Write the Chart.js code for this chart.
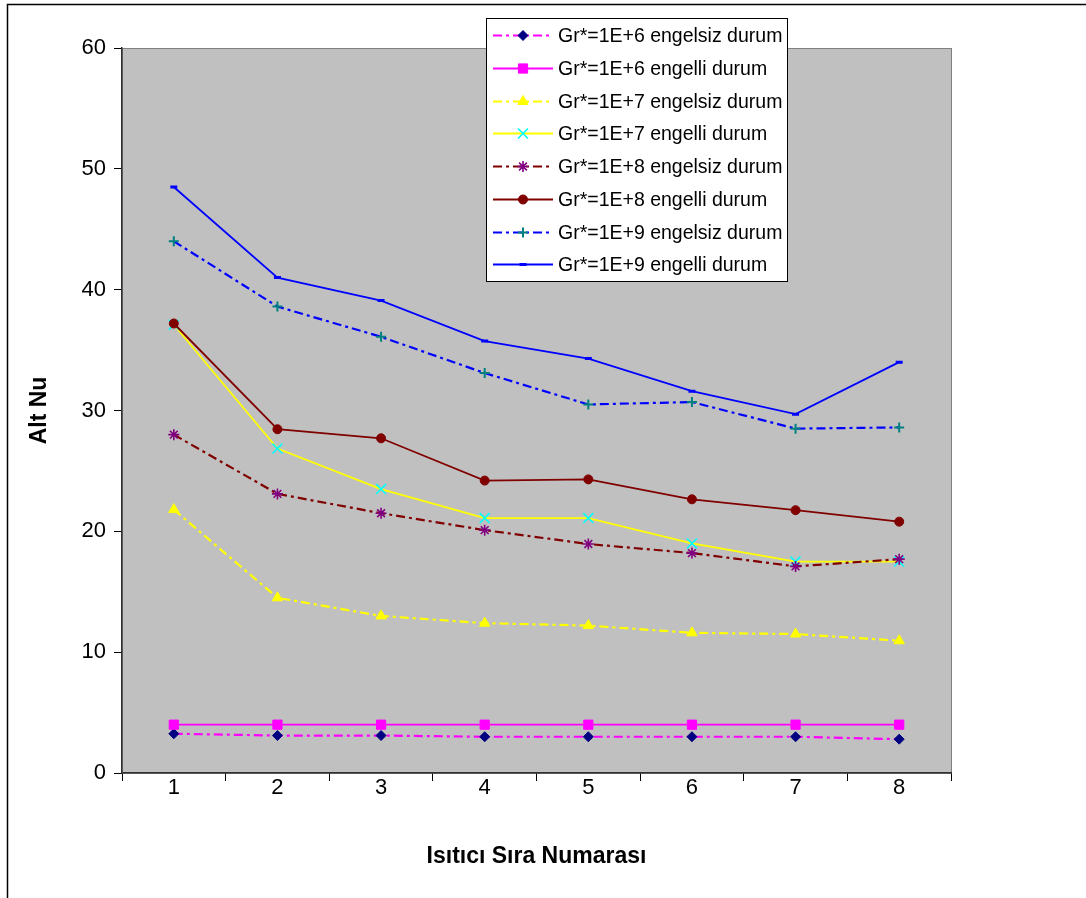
<!DOCTYPE html>
<html>
<head>
<meta charset="utf-8">
<title>Alt Nu</title>
<script src="https://cdn.jsdelivr.net/npm/chart.js@4.4.1/dist/chart.umd.min.js"></script>
<style>
  html, body { margin: 0; padding: 0; background: #fff; }
  canvas { display: block; }
</style>
</head>
<body>
<canvas id="chart" width="1086" height="898"></canvas>
<script>
// ---- data ----
const categories = ['1', '2', '3', '4', '5', '6', '7', '8'];
const yTicks = [0, 10, 20, 30, 40, 50, 60];

const gr6Engelsiz = [3.25, 3.1, 3.1, 3.0, 3.0, 3.0, 3.0, 2.8];
const gr6Engelli  = [4.0, 4.0, 4.0, 4.0, 4.0, 4.0, 4.0, 4.0];
const gr7Engelsiz = [21.8, 14.5, 13.0, 12.4, 12.2, 11.6, 11.5, 10.95];
const gr7Engelli  = [37.1, 26.85, 23.5, 21.1, 21.1, 19.0, 17.5, 17.5];
const gr8Engelsiz = [28.0, 23.1, 21.5, 20.1, 18.95, 18.2, 17.1, 17.7];
const gr8Engelli  = [37.2, 28.45, 27.7, 24.2, 24.3, 22.65, 21.75, 20.8];
const gr9Engelsiz = [44.0, 38.6, 36.1, 33.1, 30.5, 30.7, 28.5, 28.6];
const gr9Engelli  = [48.5, 41.0, 39.1, 35.75, 34.3, 31.6, 29.7, 34.0];

const FONT = '"Liberation Sans", Arial, sans-serif';
const DASH_DOT = [9, 4, 3, 4];

function series(label, data, color, dashed, style, markFill, markLine, radius, markWidth) {
    return {
        label: label,
        data: data,
        borderColor: color,
        borderWidth: dashed ? 2.2 : 1.8,
        borderDash: dashed ? DASH_DOT : [],
        tension: 0,
        fill: false,
        pointStyle: style,
        pointRadius: radius,
        pointHoverRadius: radius,
        pointBackgroundColor: markFill,
        pointBorderColor: markLine,
        pointBorderWidth: markWidth
    };
}

const datasets = [
    series('Gr*=1E+6 engelsiz durum', gr6Engelsiz, '#ff00ff', true,  'rectRot',  '#000080', '#000080', 5, 1),
    series('Gr*=1E+6 engelli durum',  gr6Engelli,  '#ff00ff', false, 'rect',     '#ff00ff', '#ff00ff', 6.5, 1),
    series('Gr*=1E+7 engelsiz durum', gr7Engelsiz, '#ffff00', true,  'triangle', '#ffff00', '#ffff00', 6, 1),
    series('Gr*=1E+7 engelli durum',  gr7Engelli,  '#ffff00', false, 'crossRot', '#00ffff', '#00ffff', 7, 1.6),
    series('Gr*=1E+8 engelsiz durum', gr8Engelsiz, '#800000', true,  'star',     '#800080', '#800080', 5.5, 1.6),
    series('Gr*=1E+8 engelli durum',  gr8Engelli,  '#800000', false, 'circle',   '#800000', '#800000', 4.5, 1),
    series('Gr*=1E+9 engelsiz durum', gr9Engelsiz, '#0000ff', true,  'cross',    '#008080', '#008080', 5, 2),
    series('Gr*=1E+9 engelli durum',  gr9Engelli,  '#0000ff', false, 'line',     '#0000ff', '#0000ff', 3.5, 3)
];
// later series drawn on top, like the original
datasets.forEach((ds, i) => { ds.order = datasets.length - i; });

// grey plot area, outer frame
const plotFrame = {
    id: 'plotFrame',
    beforeDraw(chart) {
        const { ctx, chartArea: a } = chart;
        ctx.save();
        ctx.fillStyle = '#fff';
        ctx.fillRect(0, 0, chart.width, chart.height);
        ctx.strokeStyle = '#000';
        ctx.lineWidth = 1.5;
        ctx.strokeRect(7.5, 4.5, chart.width + 20, chart.height + 20);
        ctx.fillStyle = '#c0c0c0';
        ctx.fillRect(a.left, a.top, a.right - a.left, a.bottom - a.top);
        ctx.strokeStyle = '#808080';
        ctx.lineWidth = 1;
        ctx.strokeRect(a.left + 0.5, a.top + 0.5, a.right - a.left, a.bottom - a.top);
        ctx.restore();
    }
};

// boxed legend sitting over the plot
const boxLegend = {
    id: 'boxLegend',
    afterDraw(chart) {
        const ctx = chart.ctx;
        const x0 = 486.5, y0 = 18.5, w = 301, h = 263;
        const firstY = 35, rowH = 32.75;
        ctx.save();
        ctx.fillStyle = '#fff';
        ctx.fillRect(x0, y0, w, h);
        ctx.strokeStyle = '#000';
        ctx.lineWidth = 1;
        ctx.strokeRect(x0, y0, w, h);

        chart.data.datasets.forEach((ds, i) => {
            const y = Math.round(firstY + i * rowH) + 0.5;

            ctx.save();
            ctx.strokeStyle = ds.borderColor;
            ctx.lineWidth = ds.borderWidth;
            ctx.setLineDash(ds.borderDash);
            ctx.beginPath();
            ctx.moveTo(493, y);
            ctx.lineTo(553, y);
            ctx.stroke();
            ctx.restore();

            ctx.save();
            ctx.fillStyle = ds.pointBackgroundColor;
            ctx.strokeStyle = ds.pointBorderColor;
            ctx.lineWidth = ds.pointBorderWidth;
            if (Chart.helpers && Chart.helpers.drawPoint) {
                Chart.helpers.drawPoint(ctx, {
                    pointStyle: ds.pointStyle,
                    radius: ds.pointRadius,
                    borderWidth: ds.pointBorderWidth,
                    rotation: 0
                }, 523, y);
            }
            ctx.restore();

            ctx.fillStyle = '#000';
            ctx.font = '19.5px ' + FONT;
            ctx.textAlign = 'left';
            ctx.textBaseline = 'middle';
            ctx.fillText(ds.label, 558, y + 1);
        });
        ctx.restore();
    }
};

new Chart(document.getElementById('chart').getContext('2d'), {
    type: 'line',
    data: { labels: categories, datasets: datasets },
    plugins: [plotFrame, boxLegend],
    options: {
        responsive: false,
        animation: false,
        events: [],
        layout: { padding: { left: 0, top: 48, right: 135, bottom: 0 } },
        plugins: {
            legend: { display: false },
            tooltip: { enabled: false },
            title: { display: false }
        },
        scales: {
            x: {
                type: 'category',
                offset: true,
                grid: {
                    display: true,
                    offset: true,
                    drawOnChartArea: false,
                    drawTicks: true,
                    tickLength: 8,
                    color: '#000'
                },
                border: { display: true, color: '#303030', width: 1.5 },
                ticks: {
                    color: '#000',
                    maxRotation: 0,
                    padding: -6,
                    font: { family: FONT, size: 22 }
                },
                title: {
                    display: true,
                    text: 'Isıtıcı Sıra Numarası',
                    color: '#000',
                    font: { family: FONT, size: 23, weight: 'bold' },
                    padding: { top: 0, bottom: 28 }
                },
                afterFit(scale) { scale.height = 125; }
            },
            y: {
                min: 0,
                max: 60,
                afterBuildTicks(scale) {
                    scale.ticks = yTicks.map(v => ({ value: v }));
                },
                grid: {
                    display: true,
                    drawOnChartArea: false,
                    drawTicks: true,
                    tickLength: 8,
                    color: '#000'
                },
                border: { display: true, color: '#303030', width: 1.5 },
                ticks: {
                    color: '#000',
                    padding: 8,
                    font: { family: FONT, size: 22 }
                },
                title: {
                    display: true,
                    text: 'Alt Nu',
                    color: '#000',
                    font: { family: FONT, size: 23, weight: 'bold' },
                    padding: { top: 26, bottom: 0 }
                },
                afterFit(scale) { scale.width = 122; }
            }
        }
    }
});
</script>
</body>
</html>
